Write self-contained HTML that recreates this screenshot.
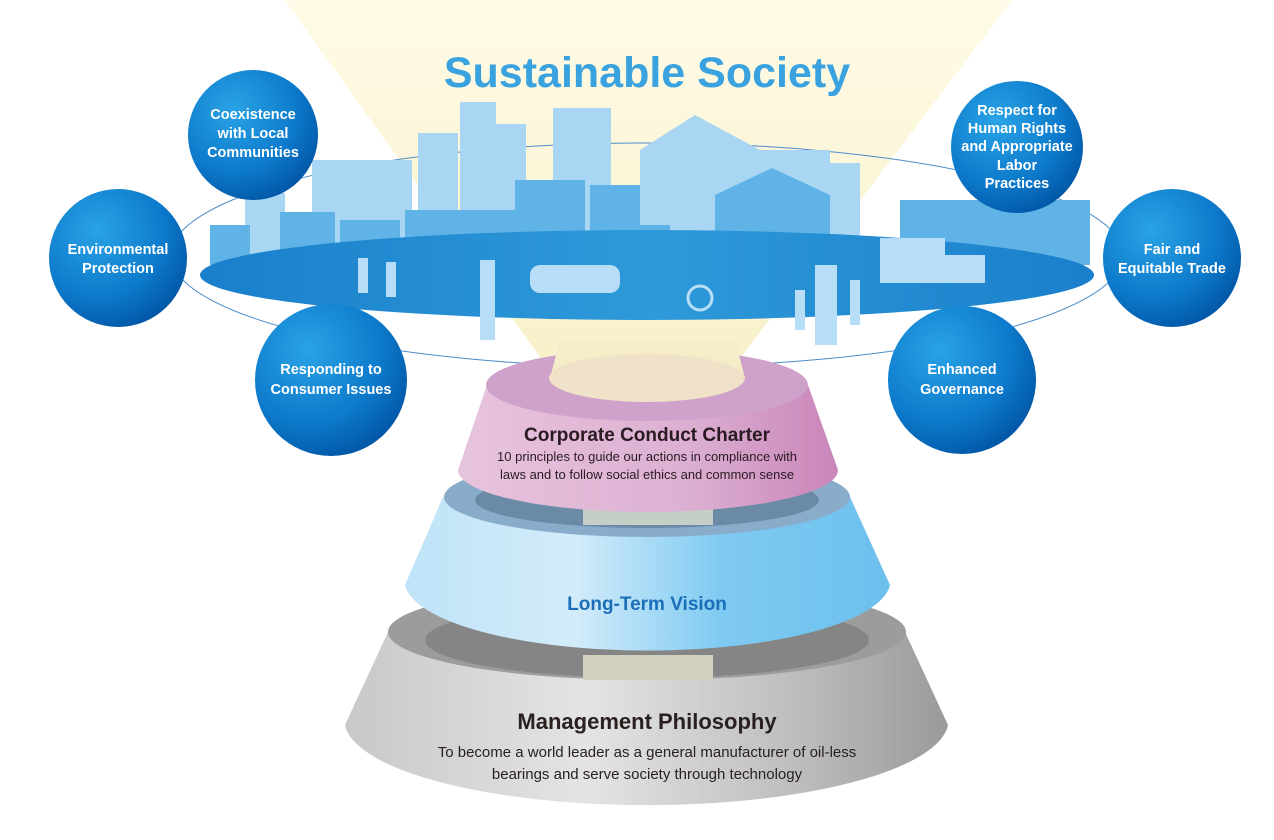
<!DOCTYPE html>
<html><head><meta charset="utf-8"><style>
html,body{margin:0;padding:0;background:#fff;}
svg{display:block;font-family:"Liberation Sans",sans-serif;}
</style></head><body>
<svg width="1274" height="840" viewBox="0 0 1274 840" xmlns="http://www.w3.org/2000/svg">
<defs>
<linearGradient id="beam" x1="0" y1="0" x2="0" y2="1"><stop offset="0" stop-color="#fffbe6"/><stop offset="1" stop-color="#f7f0c8"/></linearGradient>
<linearGradient id="disc" x1="0" y1="0" x2="1" y2="0"><stop offset="0" stop-color="#1a7fcc"/><stop offset="0.5" stop-color="#2e9ad9"/><stop offset="1" stop-color="#1a7fcc"/></linearGradient>
<radialGradient id="ball" cx="0.35" cy="0.3" r="0.8"><stop offset="0" stop-color="#2aa3e6"/><stop offset="0.6" stop-color="#0d7acb"/><stop offset="1" stop-color="#0050a0"/></radialGradient>
<linearGradient id="pink" x1="0" y1="0" x2="1" y2="0"><stop offset="0" stop-color="#e7c4dd"/><stop offset="0.6" stop-color="#dcb0d2"/><stop offset="1" stop-color="#c985b9"/></linearGradient>
<linearGradient id="lb" x1="0" y1="0" x2="1" y2="0"><stop offset="0" stop-color="#bfe3f7"/><stop offset="0.35" stop-color="#d3ecfa"/><stop offset="0.65" stop-color="#7fcaf2"/><stop offset="1" stop-color="#6cc0ee"/></linearGradient>
<linearGradient id="gr" x1="0" y1="0" x2="1" y2="0"><stop offset="0" stop-color="#c8c8c8"/><stop offset="0.4" stop-color="#e4e4e4"/><stop offset="0.75" stop-color="#bdbdbd"/><stop offset="1" stop-color="#9a9a9a"/></linearGradient>
</defs>

<polygon points="285,0 1012,0 720,385 560,385" fill="url(#beam)"/>

<ellipse cx="647" cy="255" rx="476" ry="112" fill="none" stroke="#4c8cc8" stroke-width="1"/>

<g fill="#a9d6f3">
<rect x="418" y="133" width="40" height="130"/><rect x="460" y="102" width="36" height="160"/><rect x="496" y="124" width="30" height="140"/>
<rect x="553" y="108" width="58" height="155"/><rect x="640" y="150" width="190" height="110"/><polygon points="640,150 695,115 760,150"/>
<rect x="312" y="160" width="100" height="100"/><rect x="245" y="193" width="40" height="70"/><rect x="830" y="163" width="30" height="100"/>
</g>
<g fill="#5fb3e6">
<rect x="515" y="180" width="70" height="85"/><rect x="590" y="185" width="50" height="80"/><rect x="715" y="195" width="115" height="70"/><polygon points="715,195 772,168 830,195"/>
<rect x="405" y="210" width="110" height="55"/><rect x="280" y="212" width="55" height="50"/><rect x="340" y="220" width="60" height="45"/><rect x="900" y="200" width="190" height="65"/><rect x="600" y="225" width="70" height="40"/><rect x="210" y="225" width="40" height="40"/>
</g>
<ellipse cx="647" cy="275" rx="447" ry="45" fill="url(#disc)"/>
<g fill="#b7def6">
<rect x="530" y="265" width="90" height="28" rx="10"/><rect x="880" y="238" width="65" height="45"/><rect x="945" y="255" width="40" height="28"/>
<rect x="480" y="260" width="15" height="80"/><rect x="815" y="265" width="22" height="80"/>
<rect x="358" y="258" width="10" height="35"/><rect x="386" y="262" width="10" height="35"/><rect x="850" y="280" width="10" height="45"/><rect x="795" y="290" width="10" height="40"/>
<circle cx="700" cy="298" r="12" fill="none" stroke="#b7def6" stroke-width="3"/>
</g>

<text x="647" y="87" text-anchor="middle" font-size="43" font-weight="bold" fill="#3aa3df">Sustainable Society</text>

<g fill="url(#ball)">
<circle cx="253" cy="135" r="65"/><circle cx="118" cy="258" r="69"/><circle cx="331" cy="380" r="76"/>
<circle cx="1017" cy="147" r="66"/><circle cx="1172" cy="258" r="69"/><circle cx="962" cy="380" r="74"/>
</g>
<g fill="#fff" font-size="14.5" font-weight="bold" text-anchor="middle">
<text x="253" y="119">Coexistence</text><text x="253" y="138">with Local</text><text x="253" y="157">Communities</text>
<text x="118" y="254">Environmental</text><text x="118" y="273">Protection</text>
<text x="331" y="374">Responding to</text><text x="331" y="394">Consumer Issues</text>
<text x="1017" y="115">Respect for</text><text x="1017" y="133">Human Rights</text><text x="1017" y="151">and Appropriate</text><text x="1017" y="170">Labor</text><text x="1017" y="188">Practices</text>
<text x="1172" y="254">Fair and</text><text x="1172" y="273">Equitable Trade</text>
<text x="962" y="374">Enhanced</text><text x="962" y="394">Governance</text>
</g>

<path d="M388,632 L345,725 A302,85 0 0 0 948,725 L905,632 Z" fill="url(#gr)"/>
<ellipse cx="647" cy="632" rx="259" ry="48" fill="#9c9c9c"/>
<ellipse cx="647" cy="640" rx="222" ry="38" fill="#858585"/>
<rect x="583" y="655" width="130" height="25" fill="#d2d0bf"/>
<path d="M443,497 L405,585 A243,70 0 0 0 890,585 L850,497 Z" fill="url(#lb)"/>
<ellipse cx="647" cy="497" rx="203" ry="40" fill="#8aaccb"/>
<ellipse cx="647" cy="500" rx="172" ry="28" fill="#6b8aa5"/>
<rect x="583" y="505" width="130" height="20" fill="#c5cfc8"/>
<path d="M487,385 L458,470 A190,42 0 0 0 838,470 L808,385 Z" fill="url(#pink)"/>
<ellipse cx="647" cy="385" rx="161" ry="36" fill="#cfa2cb"/>
<polygon points="560,340 735,340 745,378 550,378" fill="#f5ecc8"/>
<ellipse cx="647" cy="378" rx="98" ry="24" fill="#efe2c8"/>

<g text-anchor="middle">
<text x="647" y="441" font-size="19" font-weight="bold" fill="#2a1a22">Corporate Conduct Charter</text>
<text x="647" y="461" font-size="13" fill="#2a1a22">10 principles to guide our actions in compliance with</text>
<text x="647" y="479" font-size="13" fill="#2a1a22">laws and to follow social ethics and common sense</text>
<text x="647" y="610" font-size="19" font-weight="bold" fill="#1a6fb8">Long-Term Vision</text>
<text x="647" y="729" font-size="22" font-weight="bold" fill="#2a2020">Management Philosophy</text>
<text x="647" y="757" font-size="15" fill="#2a2020">To become a world leader as a general manufacturer of oil-less</text>
<text x="647" y="779" font-size="15" fill="#2a2020">bearings and serve society through technology</text>
</g>
</svg>
</body></html>
